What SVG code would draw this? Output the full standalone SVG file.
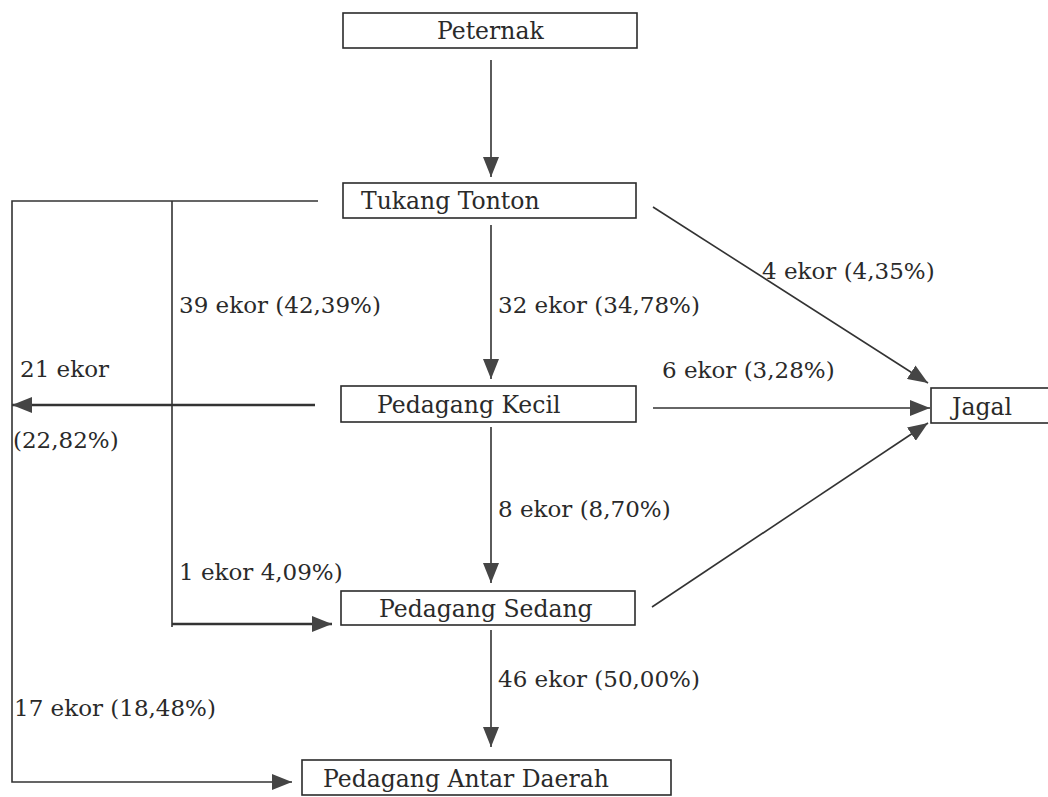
<svg xmlns="http://www.w3.org/2000/svg" width="1048" height="797" viewBox="0 0 1048 797">
<style>
.bg{fill:#ffffff}
.box{fill:#ffffff;stroke:#2b2b2b;stroke-width:1.6}
.name{font-family:"DejaVu Serif","Liberation Serif",serif;font-size:23.5px;fill:#2a2a2a}
.lbl{font-family:"DejaVu Serif","Liberation Serif",serif;font-size:23px;fill:#2a2a2a}
.ln{fill:none;stroke:#333333;stroke-width:1.6}
.thick{stroke-width:2.4}
</style>
<defs>
<marker id="ah" viewBox="0 0 20 16" refX="20" refY="8" markerWidth="20" markerHeight="16" markerUnits="userSpaceOnUse" orient="auto">
<path d="M0,0 L20,8 L0,16 Z" fill="#454545"/>
</marker>
</defs>
<rect class="bg" x="0" y="0" width="1048" height="797"/>
<g id="connectors">
<line class="ln" x1="491" y1="60" x2="491" y2="177" marker-end="url(#ah)"/>
<line class="ln" x1="491" y1="225" x2="491" y2="379" marker-end="url(#ah)"/>
<line class="ln" x1="491" y1="427" x2="491" y2="583" marker-end="url(#ah)"/>
<line class="ln" x1="491" y1="630" x2="491" y2="747" marker-end="url(#ah)"/>
<line class="ln" x1="653" y1="207" x2="928" y2="383" marker-end="url(#ah)"/>
<line class="ln" x1="653" y1="408" x2="930" y2="408" marker-end="url(#ah)"/>
<line class="ln" x1="652" y1="607" x2="928" y2="423" marker-end="url(#ah)"/>
<line class="ln thick" x1="315" y1="405" x2="12" y2="405" marker-end="url(#ah)"/>
<polyline class="ln" points="318,201 12,201 12,782 292,782" marker-end="url(#ah)"/>
<polyline class="ln" points="172,201 172,627"/>
<line class="ln thick" x1="172" y1="624" x2="332" y2="624" marker-end="url(#ah)"/>
</g>
<g id="labels">
<text class="lbl" x="179" y="313">39 ekor (42,39%)</text>
<text class="lbl" x="498" y="313">32 ekor (34,78%)</text>
<text class="lbl" x="762" y="279">4 ekor (4,35%)</text>
<text class="lbl" x="20" y="377">21 ekor</text>
<text class="lbl" x="662" y="378">6 ekor (3,28%)</text>
<text class="lbl" x="13" y="448">(22,82%)</text>
<text class="lbl" x="498" y="517">8 ekor (8,70%)</text>
<text class="lbl" x="179" y="580">1 ekor 4,09%)</text>
<text class="lbl" x="498" y="687">46 ekor (50,00%)</text>
<text class="lbl" x="14" y="716">17 ekor (18,48%)</text>
</g>
<g id="peternak">
<rect class="box" x="343" y="13" width="294" height="35"/>
<text class="name" x="437" y="39">Peternak</text>
</g>
<g id="tukang-tonton">
<rect class="box" x="343" y="183" width="293" height="35"/>
<text class="name" x="361" y="209">Tukang Tonton</text>
</g>
<g id="pedagang-kecil">
<rect class="box" x="341" y="386" width="295" height="36"/>
<text class="name" x="377" y="413">Pedagang Kecil</text>
</g>
<g id="pedagang-sedang">
<rect class="box" x="341" y="591" width="294" height="34"/>
<text class="name" x="379" y="617">Pedagang Sedang</text>
</g>
<g id="pedagang-antar-daerah">
<rect class="box" x="302" y="760" width="369" height="35"/>
<text class="name" x="323" y="787">Pedagang Antar Daerah</text>
</g>
<g id="jagal">
<rect class="box" x="931" y="388" width="125" height="35"/>
<text class="name" x="952" y="415">Jagal</text>
</g>
</svg>
